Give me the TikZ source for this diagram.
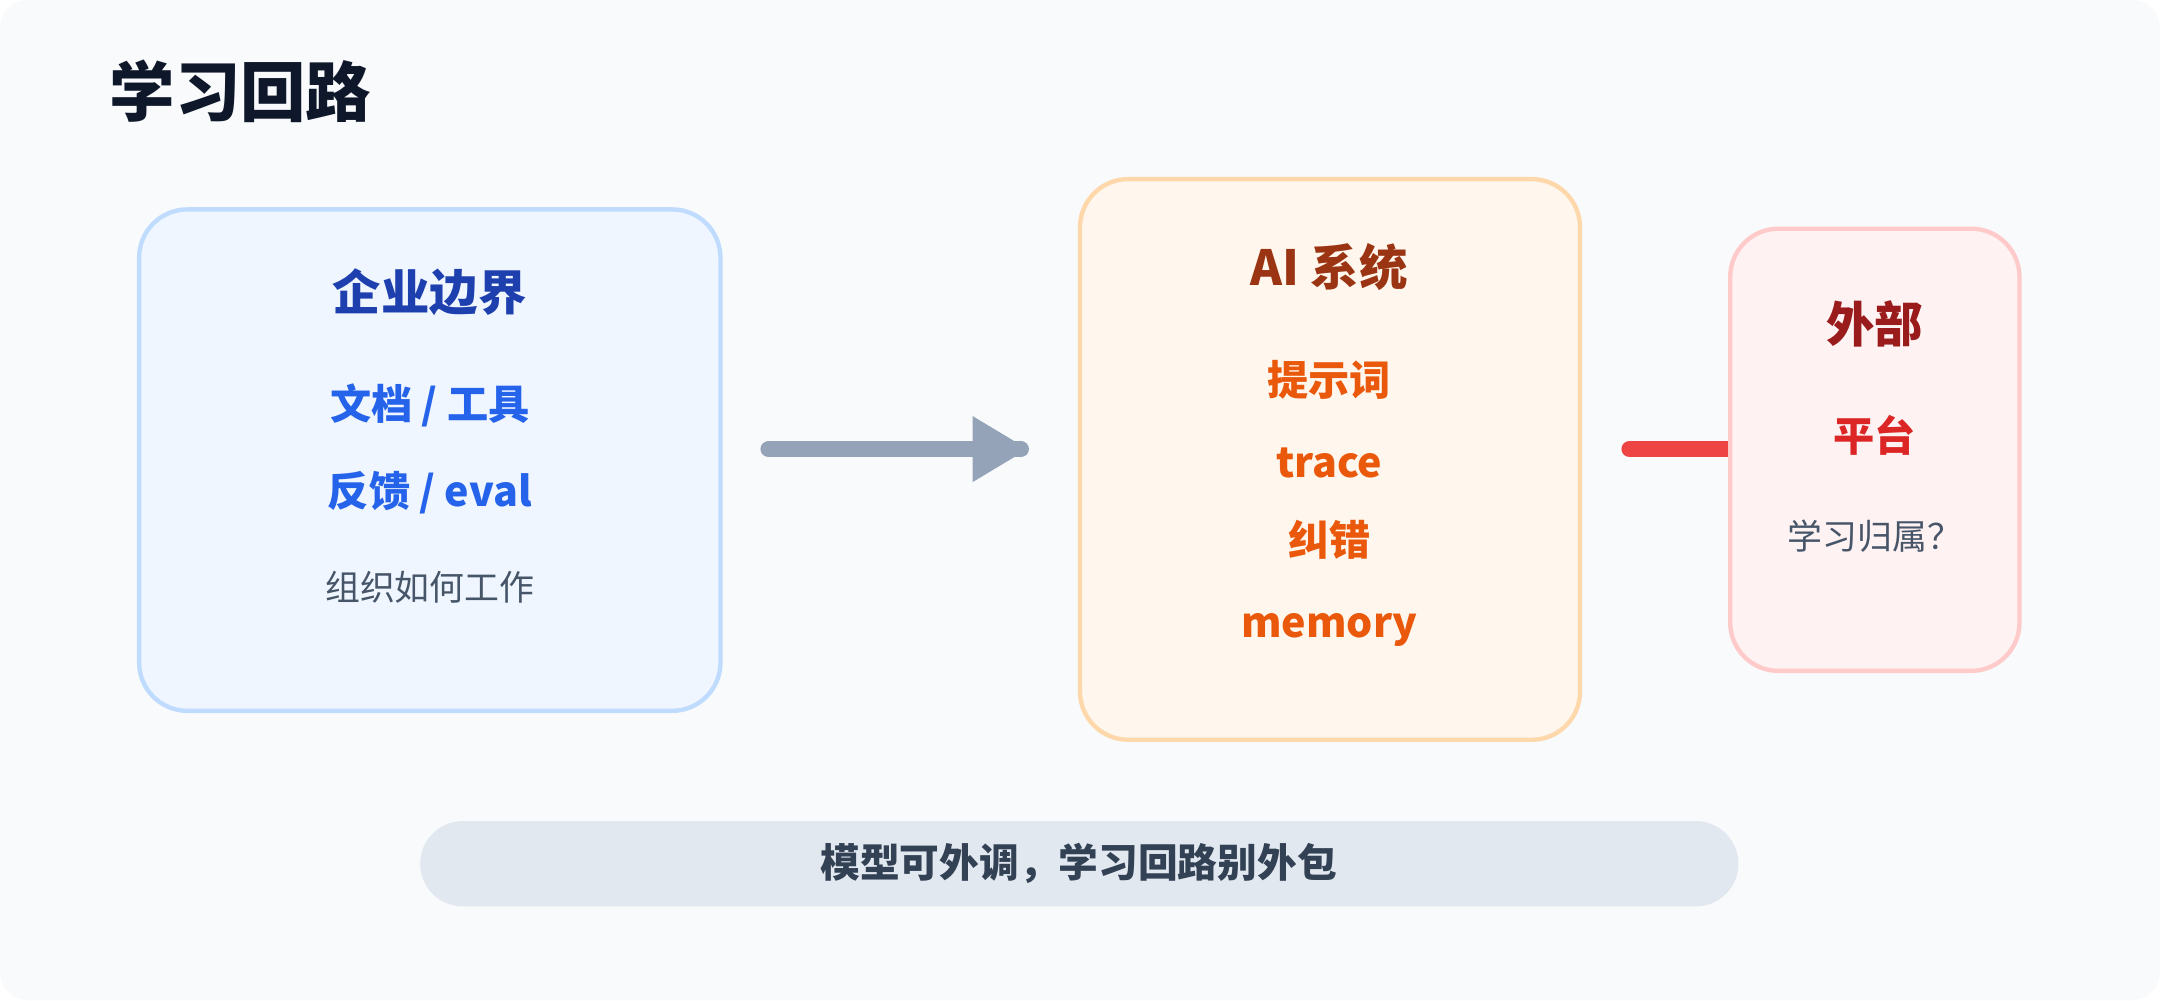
\documentclass[tikz,border=0pt]{standalone}
\usepackage{fontspec}
\setmainfont{Noto Sans CJK SC}
\usetikzlibrary{positioning}
\definecolor{bgfill}{HTML}{F8FAFC}
\definecolor{bluefill}{HTML}{EFF6FF}\definecolor{bluedraw}{HTML}{BFDBFE}
\definecolor{bluedark}{HTML}{1E40AF}\definecolor{bluetext}{HTML}{2563EB}
\definecolor{orgfill}{HTML}{FFF7ED}\definecolor{orgdraw}{HTML}{FED7AA}
\definecolor{orgdark}{HTML}{9A3412}\definecolor{orgtext}{HTML}{EA580C}
\definecolor{redfill}{HTML}{FEF2F2}\definecolor{reddraw}{HTML}{FECACA}
\definecolor{reddark}{HTML}{991B1B}\definecolor{redtext}{HTML}{DC2626}
\definecolor{redline}{HTML}{EF4444}
\definecolor{graytext}{HTML}{475569}\definecolor{arrowgray}{HTML}{94A3B8}
\definecolor{pillfill}{HTML}{E2E8F0}\definecolor{pilltext}{HTML}{334155}
\definecolor{titletext}{HTML}{0F172A}
\tikzset{
  box/.style={rounded corners=0.35cm, line width=0.9pt},
  head/.style={font=\fontsize{10}{12}\selectfont\bfseries},
  item/.style={font=\fontsize{8.5}{10}\selectfont\bfseries},
  note/.style={font=\fontsize{7.2}{9}\selectfont, text=graytext},
}
\begin{document}
\begin{tikzpicture}[x=0.01cm,y=-0.01cm]
    % Background
    \fill[bgfill, rounded corners=0.2cm] (0,0) rectangle (1568,726);
    \useasboundingbox (0,0) rectangle (1568,726);
    \node[anchor=west, inner sep=0pt, font=\fontsize{13.5}{16}\selectfont\bfseries, text=titletext] (title) at (79,66) {学习回路};

    % Connectors (behind boxes)
    \coordinate (arrS) at (558,326);
    \coordinate (arrE) at (741,326);
    \draw[arrowgray, line width=3.4pt, line cap=round] (arrS) -- (arrE);
    \fill[arrowgray] (706,302) -- (746,326) -- (706,350) -- cycle;
    \coordinate (redS) at (1183,326);
    \coordinate (redE) at (1262,326);
    \draw[redline, line width=3.4pt, line cap=round] (redS) -- (redE);

    % Enterprise box
    \draw[box, fill=bluefill, draw=bluedraw] (101,152) rectangle (523,516);
    \node[head, text=bluedark] (ent) at (312,212) {企业边界};
    \node[item, text=bluetext] (docs) at (312,294) {文档 / 工具};
    \node[item, text=bluetext] (fb) at (312,358) {反馈 / eval};
    \node[note] (org) at (312,426) {组织如何工作};

    % AI system box
    \draw[box, fill=orgfill, draw=orgdraw] (784,130) rectangle (1147,537);
    \node[head, text=orgdark] (ai) at (965,194) {AI 系统};
    \node[item, text=orgtext] (prompt) at (965,276) {提示词};
    \node[item, text=orgtext] (trace) at (965,336) {trace};
    \node[item, text=orgtext] (fix) at (965,392) {纠错};
    \node[item, text=orgtext] (mem) at (965,457) {memory};

    % External box
    \draw[box, fill=redfill, draw=reddraw] (1256,166) rectangle (1466,487);
    \node[head, text=reddark] (ext) at (1361,235) {外部};
    \node[item, text=redtext] (plat) at (1361,316) {平台};
    \node[note] (own) at (1361,389) {学习归属？};

    % Bottom pill
    \fill[pillfill, rounded corners=0.31cm] (305,596) rectangle (1262,658);
    \node[font=\fontsize{8.2}{10}\selectfont\bfseries, text=pilltext] (msg) at (783,627) {模型可外调，学习回路别外包};
\end{tikzpicture}
\end{document}
